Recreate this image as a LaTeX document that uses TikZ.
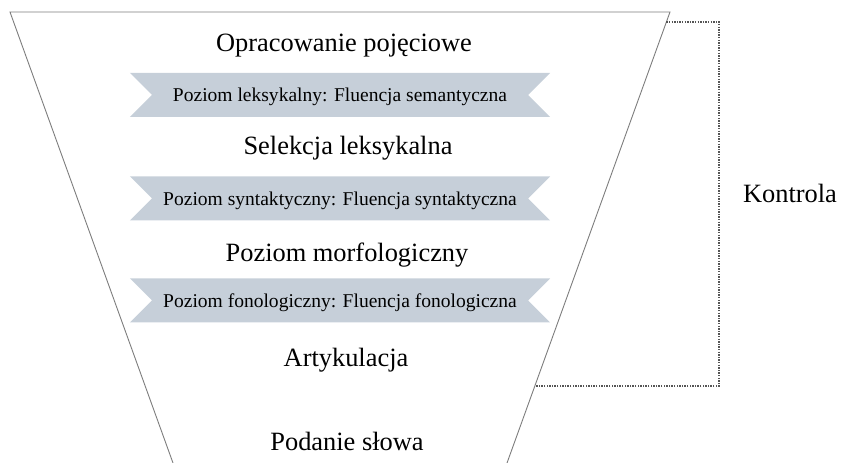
\documentclass[tikz,border=0pt]{standalone}
\usepackage{fontspec}
\setmainfont{Liberation Serif}
\usetikzlibrary{shapes.symbols}
\definecolor{ribbonfill}{RGB}{198,207,217}
\definecolor{funnelline}{RGB}{125,125,125}
\definecolor{ctrlline}{RGB}{85,85,85}
\tikzset{
  funnel/.style={draw=funnelline, line width=0.9bp},
  ctrl/.style={draw=ctrlline, line width=1.3bp, dash pattern=on 1.4bp off 1.2bp},
  stage/.style={anchor=base, inner sep=0pt, font=\fontsize{26.5}{30}\selectfont},
  ribbon/.style={signal, signal from=west and east, signal to=nowhere,
    signal pointer angle=90, fill=ribbonfill, draw=none,
    minimum width=420bp, minimum height=44bp, inner sep=0pt,
    text height=14bp, text depth=0pt,
    font=\fontsize{19.6}{22}\selectfont},
}
\begin{document}
\begin{tikzpicture}[x=1bp, y=-1bp]
  \useasboundingbox (0,0) rectangle (843,463);

  % funnel outline
  \coordinate (tl) at (10,12);
  \coordinate (tr) at (670,12);
  \coordinate (bl) at (173,463);
  \coordinate (br) at (507,463);
  \draw[funnel] (bl) -- (tl) -- (tr) -- (br);

  % control bracket on the right
  \coordinate (c1) at (666.4,22);
  \coordinate (c2) at (719,22);
  \coordinate (c3) at (719,386);
  \coordinate (c4) at (535.5,386);
  \draw[ctrl] (c1) -- (c2) -- (c3) -- (c4);
  \node[stage] (kontrola) at (790,203) {Kontrola};

  % processing stages
  \node[stage] (s1) at (344,52) {Opracowanie pojęciowe};
  \node[stage] (s2) at (348,155) {Selekcja leksykalna};
  \node[stage] (s3) at (347,262) {Poziom morfologiczny};
  \node[stage] (s4) at (346,367) {Artykulacja};
  \node[stage] (s5) at (347,450) {Podanie słowa};

  % fluency ribbons
  \node[ribbon] (r1) at (340,95) {Poziom leksykalny: Fluencja semantyczna};
  \node[ribbon] (r2) at (340,198.5) {Poziom syntaktyczny: Fluencja syntaktyczna};
  \node[ribbon] (r3) at (340,300.5) {Poziom fonologiczny: Fluencja fonologiczna};
\end{tikzpicture}
\end{document}
